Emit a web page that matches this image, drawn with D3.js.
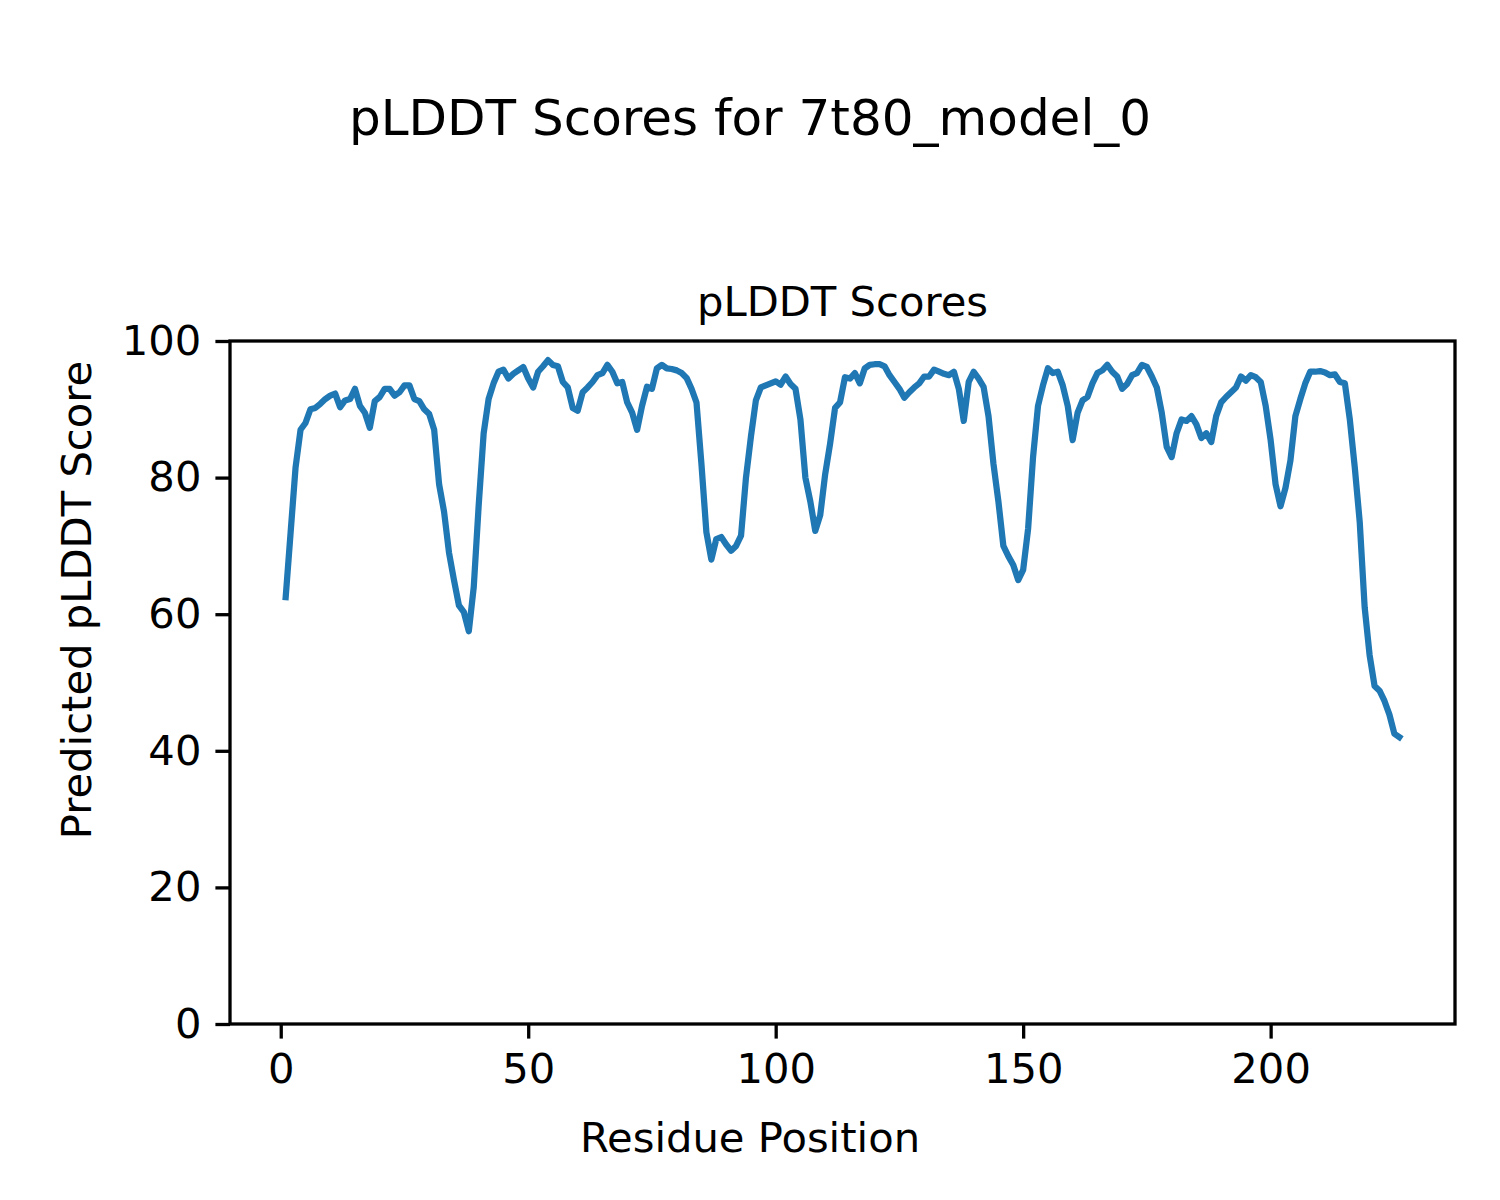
<!DOCTYPE html>
<html>
<head>
<meta charset="utf-8">
<script src="https://cdn.jsdelivr.net/npm/d3@7"></script>
<style>
html, body { margin: 0; padding: 0; background: #fff; }
svg { display: block; font-family: "DejaVu Sans", sans-serif; }
</style>
</head>
<body>
<svg id="chart" width="1500" height="1200"></svg>
<script>
const plddt = [
  62.5, 72, 81.5, 87, 88, 90, 90.2, 90.8, 91.5, 92,
  92.3, 90.3, 91.3, 91.5, 93, 90.5, 89.5, 87.3, 91.2, 91.8,
  93, 93, 92, 92.5, 93.5, 93.5, 91.5, 91.2, 90, 89.3,
  87, 79, 75, 69, 65, 61.3, 60.3, 57.5, 64, 76,
  86.5, 91.5, 93.8, 95.5, 95.8, 94.5, 95.2, 95.7, 96.2, 94.5,
  93.2, 95.5, 96.3, 97.2, 96.5, 96.3, 94, 93.2, 90.2, 89.8,
  92.5, 93.2, 94, 95, 95.3, 96.5, 95.5, 93.8, 94, 91,
  89.5, 87, 90.5, 93.3, 93, 96, 96.5, 96, 95.9, 95.7,
  95.3, 94.6, 93, 91, 82, 72, 68, 71, 71.3, 70.2,
  69.3, 70, 71.5, 80, 86, 91.3, 93.2, 93.5, 93.8, 94.1,
  93.6, 94.8, 93.7, 93, 88.5, 80, 76.5, 72.2, 74.5, 80.5,
  85, 90.2, 91, 94.7, 94.5, 95.3, 93.8, 96, 96.5, 96.6,
  96.6, 96.3, 95, 94, 93, 91.7, 92.5, 93.2, 93.8, 94.8,
  94.8, 95.8, 95.5, 95.2, 95, 95.5, 93, 88.3, 94, 95.5,
  94.5, 93.3, 89, 82, 76.5, 70, 68.5, 67.2, 65, 66.5,
  72.5, 83, 90.5, 93.5, 96, 95.3, 95.5, 93.5, 90.5, 85.5,
  89.5, 91.3, 91.8, 93.8, 95.3, 95.7, 96.5, 95.5, 94.8, 93,
  93.7, 95, 95.3, 96.5, 96.2, 94.8, 93.2, 89.5, 84.5, 83,
  86.5, 88.5, 88.3, 89, 87.8, 85.8, 86.5, 85.2, 89, 91,
  91.8, 92.5, 93.2, 94.8, 94.2, 95, 94.7, 94, 90.5, 85.5,
  79, 75.8, 78.5, 82.5, 89, 91.5, 93.8, 95.5, 95.5, 95.6,
  95.4, 95, 95.1, 94, 93.8, 88.5, 81.5, 73.5, 61, 54,
  49.5, 48.8, 47.3, 45.3, 42.5, 42
];
const residues = d3.range(1, plddt.length + 1);
const xTicks = [0, 50, 100, 150, 200];
const yTicks = [0, 20, 40, 60, 80, 100];

const figTitle = "pLDDT Scores for 7t80_model_0";
const axTitle = "pLDDT Scores";
const xLabel = "Residue Position";
const yLabel = "Predicted pLDDT Score";

(function () {
  const svg = d3.select("#chart");
  const pL = 230, pR = 1455, pT = 341, pB = 1024;
  const fs = 41.7;

  const xMin = d3.min(residues), xMax = d3.max(residues);
  const pad = (xMax - xMin) * 0.05;
  const x = d3.scaleLinear().domain([xMin - pad, xMax + pad]).range([pL, pR]);
  const y = d3.scaleLinear().domain([0, 100]).range([pB, pT]);

  const data = residues.map((r, i) => ({ r, v: plddt[i] }));

  svg.append("path")
    .datum(data)
    .attr("fill", "none")
    .attr("stroke", "#1f77b4")
    .attr("stroke-width", 6.25)
    .attr("stroke-linejoin", "round")
    .attr("stroke-linecap", "square")
    .attr("d", d3.line().x(d => x(d.r)).y(d => y(d.v)));

  const xAxis = d3.axisBottom(x).tickValues(xTicks).tickSize(14.6).tickPadding(14).tickFormat(d3.format("d"));
  const yAxis = d3.axisLeft(y).tickValues(yTicks).tickSize(14.6).tickPadding(14).tickFormat(d3.format("d"));

  const gx = svg.append("g").attr("transform", `translate(0,${pB})`).call(xAxis);
  const gy = svg.append("g").attr("transform", `translate(${pL},0)`).call(yAxis);
  [gx, gy].forEach(g => {
    g.select(".domain").remove();
    g.selectAll(".tick line").attr("stroke", "#000").attr("stroke-width", 3.3);
    g.selectAll(".tick text").attr("fill", "#000").style("font-size", fs + "px").style("font-family", "DejaVu Sans");
  });
  gx.selectAll(".tick text").attr("dy", "0.73em");

  svg.append("rect")
    .attr("x", pL).attr("y", pT)
    .attr("width", pR - pL).attr("height", pB - pT)
    .attr("fill", "none").attr("stroke", "#000").attr("stroke-width", 3.3);

  svg.append("text").attr("x", 750).attr("y", 135).attr("text-anchor", "middle")
    .style("font-size", "50px").text(figTitle);
  svg.append("text").attr("x", (pL + pR) / 2).attr("y", 316).attr("text-anchor", "middle")
    .style("font-size", fs + "px").text(axTitle);
  svg.append("text").attr("x", 750).attr("y", 1152).attr("text-anchor", "middle")
    .style("font-size", fs + "px").text(xLabel);
  svg.append("text").attr("transform", "translate(91,600) rotate(-90)").attr("text-anchor", "middle")
    .style("font-size", fs + "px").text(yLabel);
})();
</script>
</body>
</html>
